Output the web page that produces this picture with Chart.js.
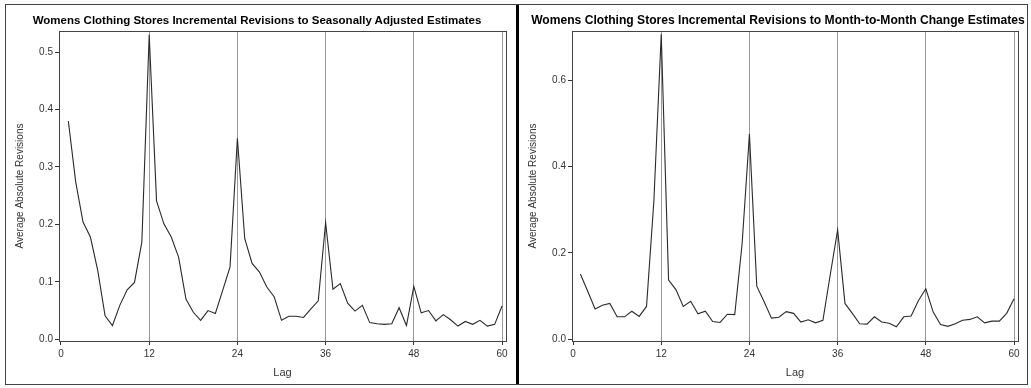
<!DOCTYPE html>
<html>
<head>
<meta charset="utf-8">
<script src="https://cdn.jsdelivr.net/npm/chart.js@4.4.0/dist/chart.umd.min.js"></script>
<style>
  html, body { margin: 0; padding: 0; background: #fff; }
  #wrap {
    position: absolute; left: 5px; top: 4px;
    width: 1021px; height: 379px;
    border: 1px solid #444;
  }
  .panel { position: absolute; top: 0; height: 379px; }
  #p1 { left: 0; width: 510px; }
  #p2 { left: 513px; width: 508px; }
  #divider { position: absolute; left: 510px; top: 0; width: 3px; height: 379px; background: #000; }
  .title {
    position: absolute; top: 13px; height: 14px; line-height: 14px;
    text-align: center; white-space: nowrap; color: #000;
    font-family: 'Liberation Sans', Arial, sans-serif; font-weight: bold;
  }
  #t1 { left: 0; width: 514px; font-size: 11.5px; }
  #t2 { left: 525px; width: 506px; font-size: 12.1px; }
</style>
</head>
<body>
<div id="wrap">
  <div class="panel" id="p1"><canvas id="chartSA"></canvas></div>
  <div id="divider"></div>
  <div class="panel" id="p2"><canvas id="chartMM"></canvas></div>
</div>
<div class="title" id="t1"></div>
<div class="title" id="t2"></div>
<script>
const lags = [1, 2, 3, 4, 5, 6, 7, 8, 9, 10, 11, 12, 13, 14, 15, 16, 17, 18, 19, 20,
  21, 22, 23, 24, 25, 26, 27, 28, 29, 30, 31, 32, 33, 34, 35, 36, 37, 38, 39, 40,
  41, 42, 43, 44, 45, 46, 47, 48, 49, 50, 51, 52, 53, 54, 55, 56, 57, 58, 59, 60];

// seasonally adjusted estimates
const saRevisions = [0.380, 0.274, 0.204, 0.178, 0.120, 0.041, 0.024, 0.059, 0.086, 0.099,
  0.169, 0.530, 0.241, 0.201, 0.178, 0.143, 0.070, 0.047, 0.033, 0.050,
  0.045, 0.085, 0.126, 0.350, 0.175, 0.132, 0.117, 0.091, 0.074, 0.033,
  0.040, 0.040, 0.038, 0.053, 0.067, 0.203, 0.087, 0.097, 0.063, 0.049,
  0.059, 0.029, 0.027, 0.026, 0.027, 0.055, 0.024, 0.092, 0.046, 0.050,
  0.032, 0.043, 0.034, 0.023, 0.031, 0.026, 0.033, 0.023, 0.026, 0.058];

// month-to-month change estimates
const mmRevisions = [0.151, 0.111, 0.070, 0.079, 0.083, 0.052, 0.052, 0.065, 0.053, 0.076,
  0.320, 0.706, 0.137, 0.115, 0.076, 0.088, 0.059, 0.065, 0.041, 0.039,
  0.058, 0.057, 0.220, 0.475, 0.123, 0.087, 0.049, 0.051, 0.064, 0.060,
  0.040, 0.045, 0.038, 0.044, 0.150, 0.253, 0.083, 0.060, 0.036, 0.035,
  0.052, 0.040, 0.037, 0.029, 0.052, 0.054, 0.090, 0.117, 0.063, 0.034,
  0.030, 0.036, 0.044, 0.046, 0.052, 0.038, 0.042, 0.042, 0.060, 0.094];

const xTicks = [0, 12, 24, 36, 48, 60];
const yTicksSA = [0, 0.1, 0.2, 0.3, 0.4, 0.5];
const yTicksMM = [0, 0.2, 0.4, 0.6];

const titleSA = "Womens Clothing Stores Incremental Revisions to Seasonally Adjusted Estimates";
const titleMM = "Womens Clothing Stores Incremental Revisions to Month-to-Month Change Estimates";

document.getElementById("t1").textContent = titleSA;
document.getElementById("t2").textContent = titleMM;

const FONT = "'Liberation Sans', Arial, sans-serif";
const tickColor = "#333";

// box round the plot area
const frame = {
  id: "frame",
  afterDatasetsDraw(chart) {
    const a = chart.chartArea;
    const ctx = chart.ctx;
    ctx.save();
    ctx.strokeStyle = "#444";
    ctx.lineWidth = 1;
    ctx.strokeRect(Math.round(a.left) + 0.5, Math.round(a.top) + 0.5,
      Math.round(a.right - a.left), Math.round(a.bottom - a.top));
    ctx.restore();
  },
};

function makeChart(id, values, yTicks, yMax, yMin, xMin, padRight) {
  const ctx = document.getElementById(id).getContext("2d");
  return new Chart(ctx, {
    type: "line",
    data: {
      datasets: [{
        data: lags.map((l, i) => ({ x: l, y: values[i] })),
        borderColor: "#2a2a2a",
        borderWidth: 1.1,
        pointRadius: 0,
        tension: 0,
      }],
    },
    options: {
      responsive: true,
      maintainAspectRatio: false,
      animation: false,
      layout: { padding: { left: 0, right: padRight, top: 26, bottom: 0 } },
      plugins: {
        legend: { display: false },
        tooltip: { enabled: false },
        title: { display: false },
      },
      scales: {
        x: {
          type: "linear",
          min: xMin,
          max: 60.54,
          afterBuildTicks: (axis) => { axis.ticks = xTicks.map((v) => ({ value: v })); },
          afterFit: (axis) => { axis.height = 43; },
          border: { display: false },
          grid: {
            drawOnChartArea: true,
            color: (c) => (c.tick && c.tick.value === 0 ? "rgba(0,0,0,0)" : "#9a9a9a"),
            tickColor: tickColor,
            tickLength: 4,
            lineWidth: 1,
          },
          ticks: {
            color: tickColor,
            padding: 3,
            font: { family: FONT, size: 10 },
            callback: (v) => v,
          },
          title: {
            display: true,
            text: "Lag",
            color: tickColor,
            font: { family: FONT, size: 11 },
            padding: { top: 0, bottom: 4.4 },
          },
        },
        y: {
          type: "linear",
          min: yMin,
          max: yMax,
          afterBuildTicks: (axis) => { axis.ticks = yTicks.map((v) => ({ value: v })); },
          afterFit: (axis) => { axis.width = 53; },
          border: { display: false },
          grid: {
            drawOnChartArea: false,
            tickColor: tickColor,
            tickLength: 4,
          },
          ticks: {
            color: tickColor,
            padding: 2,
            font: { family: FONT, size: 10 },
            callback: (v) => v.toFixed(1),
          },
          title: {
            display: true,
            text: "Average Absolute Revisions",
            color: tickColor,
            font: { family: FONT, size: 10 },
            padding: { top: 8, bottom: 0 },
          },
        },
      },
    },
    plugins: [frame],
  });
}

makeChart("chartSA", saRevisions, yTicksSA, 0.5366, -0.003, -0.27, 10);
makeChart("chartMM", mmRevisions, yTicksMM, 0.7138, -0.004, -0.14, 9);
</script>
</body>
</html>
